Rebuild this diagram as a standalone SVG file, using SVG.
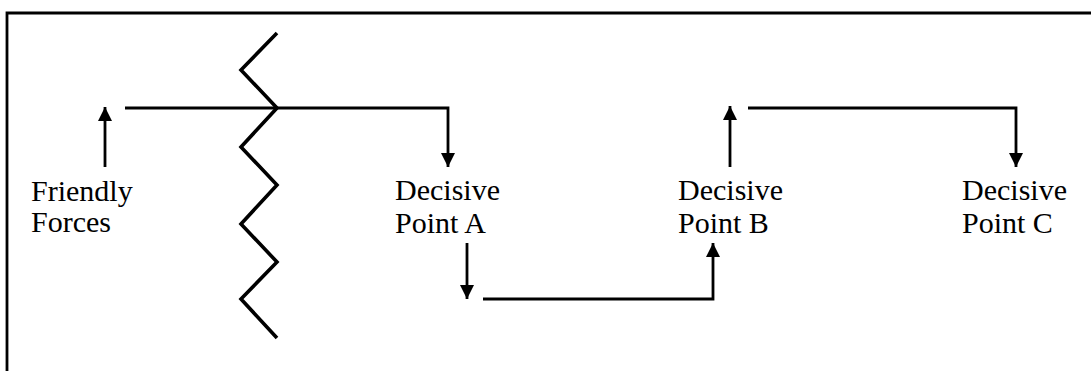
<svg xmlns="http://www.w3.org/2000/svg" width="1091" height="371" viewBox="0 0 1091 371">
<defs>
<marker id="ah" markerWidth="15" markerHeight="14" refX="14" refY="7" orient="auto" markerUnits="userSpaceOnUse">
<path d="M0,0 L14,7 L0,14 Z" fill="#000"/>
</marker>
<style>
.ln{fill:none;stroke:#000;stroke-width:2.8;stroke-linejoin:miter}
.zz{fill:none;stroke:#000;stroke-width:3.6;stroke-linejoin:miter}
.ar{fill:none;stroke:#000;stroke-width:2.8;marker-end:url(#ah)}
.t{font-family:"Liberation Serif","Times New Roman",serif;font-size:30px;fill:#000}
</style>
</defs>
<rect width="1091" height="371" fill="#fff"/>
<g id="frame">
<path class="ln" d="M7,371 L7,13 L1091,13"/>
</g>
<g id="front-line">
<path class="zz" d="M277,33 L241,70 L277,108 L241,147 L277,185 L241,224 L277,262 L241,299 L277,338"/>
</g>
<g id="connectors">
<path class="ar" d="M105,167 L105,107"/>
<path class="ar" d="M125,108 L448,108 L448,167"/>
<path class="ar" d="M467,243 L467,299"/>
<path class="ar" d="M483,299 L713,299 L713,243"/>
<path class="ar" d="M730,167 L730,106"/>
<path class="ar" d="M748,108 L1016,108 L1016,167"/>
</g>
<g id="friendly">
<text class="t" x="31" y="201">Friendly</text>
<text class="t" x="31" y="232">Forces</text>
</g>
<g id="pointA">
<text class="t" x="395" y="200">Decisive</text>
<text class="t" x="395" y="233">Point A</text>
</g>
<g id="pointB">
<text class="t" x="678" y="200">Decisive</text>
<text class="t" x="678" y="233">Point B</text>
</g>
<g id="pointC">
<text class="t" x="962" y="200">Decisive</text>
<text class="t" x="962" y="233">Point C</text>
</g>
</svg>
